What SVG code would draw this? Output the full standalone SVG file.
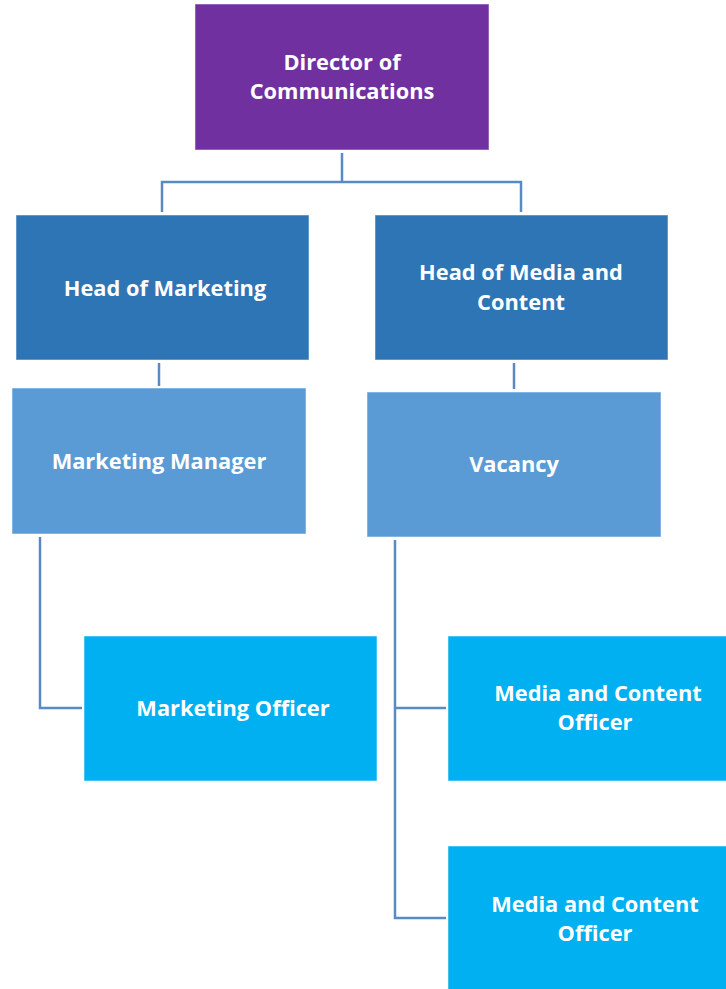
<svg xmlns="http://www.w3.org/2000/svg" width="726" height="989" viewBox="0 0 726 989">
<style>
.box{stroke:#ffffff;stroke-opacity:0.5;stroke-width:1}
.l0{fill:#7030A0}.l1{fill:#2E75B6}.l2{fill:#5B9BD5}.l3{fill:#00B0F0}
text{font-family:"Open Sans","Liberation Sans",sans-serif;font-weight:bold;font-size:21.8px;fill:#ffffff;text-anchor:middle}
.c{fill:none;stroke:#5A8AC4;stroke-width:2.5}
</style>
<rect width="726" height="989" fill="#ffffff"/>
<g id="connectors">
<path class="c" d="M342 153V182M162 212V182H521V212"/>
<path class="c" d="M159 363V386"/>
<path class="c" d="M514 363V389"/>
<path class="c" d="M40 537V708H82"/>
<path class="c" d="M395 540V918H446M395 708H446"/>
</g>
<g id="director"><rect class="box l0" x="195" y="4" width="294" height="146"/><text x="342" y="70">Director of</text><text x="342" y="99">Communications</text></g>
<g id="head-marketing"><rect class="box l1" x="16" y="215" width="293" height="145"/><text x="165" y="296">Head of Marketing</text></g>
<g id="head-media"><rect class="box l1" x="375" y="215" width="293" height="145"/><text x="521" y="280">Head of Media and</text><text x="521" y="310">Content</text></g>
<g id="marketing-manager"><rect class="box l2" x="12" y="388" width="294" height="146"/><text x="159" y="469">Marketing Manager</text></g>
<g id="vacancy"><rect class="box l2" x="367" y="392" width="294" height="145"/><text x="514" y="472">Vacancy</text></g>
<g id="marketing-officer"><rect class="box l3" x="84" y="636" width="293" height="145"/><text x="233" y="716">Marketing Officer</text></g>
<g id="media-officer-1"><rect class="box l3" x="448" y="636" width="294" height="145"/><text x="598" y="701">Media and Content</text><text x="595" y="730">Officer</text></g>
<g id="media-officer-2"><rect class="box l3" x="448" y="846" width="294" height="160"/><text x="595" y="912">Media and Content</text><text x="595" y="941">Officer</text></g>
</svg>
